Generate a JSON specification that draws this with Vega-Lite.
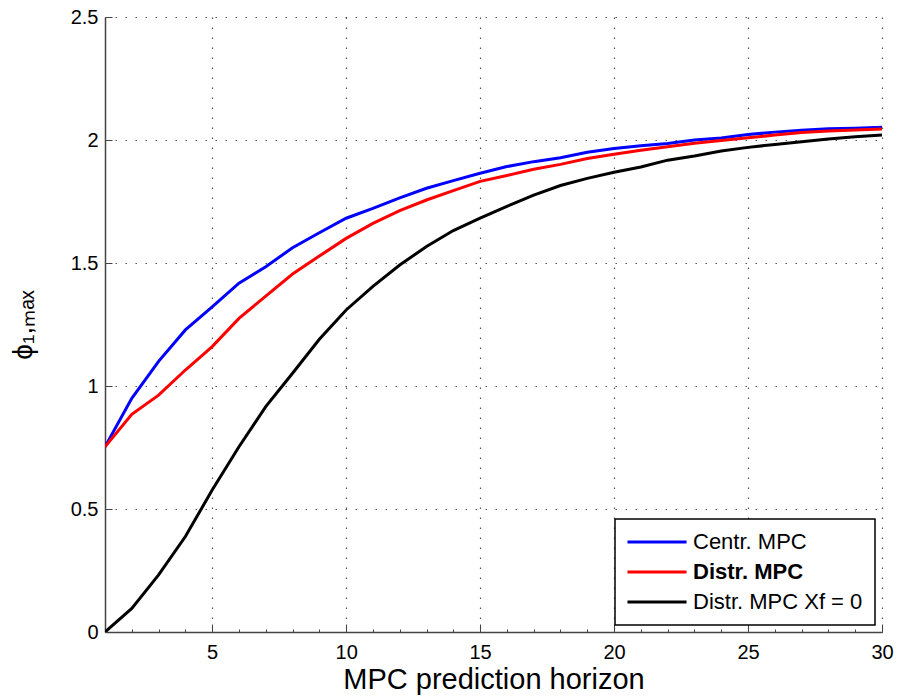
{
  "$schema": "https://vega.github.io/schema/vega-lite/v6.json",
  "width": 777,
  "height": 615,
  "autosize": {"type": "none"},
  "padding": {"left": 105, "top": 17, "right": 17, "bottom": 67},
  "background": "white",
  "config": {
    "view": {"stroke": null},
    "font": "Liberation Sans",
    "axis": {"labelFont": "Liberation Sans", "titleFont": "Liberation Sans", "labelColor": "black", "titleColor": "black", "titleFontWeight": "normal", "domainColor": "#444", "tickColor": "#444", "domainWidth": 1.5, "tickWidth": 1}
  },
  "datasets": {
    "d": [
      {"h":1,"s":"Centr. MPC","v":0.753},{"h":2,"s":"Centr. MPC","v":0.95},{"h":3,"s":"Centr. MPC","v":1.10},{"h":4,"s":"Centr. MPC","v":1.228},{"h":5,"s":"Centr. MPC","v":1.322},{"h":6,"s":"Centr. MPC","v":1.418},{"h":7,"s":"Centr. MPC","v":1.485},{"h":8,"s":"Centr. MPC","v":1.562},{"h":9,"s":"Centr. MPC","v":1.623},{"h":10,"s":"Centr. MPC","v":1.682},{"h":11,"s":"Centr. MPC","v":1.722},{"h":12,"s":"Centr. MPC","v":1.765},{"h":13,"s":"Centr. MPC","v":1.804},{"h":14,"s":"Centr. MPC","v":1.835},{"h":15,"s":"Centr. MPC","v":1.865},{"h":16,"s":"Centr. MPC","v":1.892},{"h":17,"s":"Centr. MPC","v":1.912},{"h":18,"s":"Centr. MPC","v":1.928},{"h":19,"s":"Centr. MPC","v":1.95},{"h":20,"s":"Centr. MPC","v":1.965},{"h":21,"s":"Centr. MPC","v":1.977},{"h":22,"s":"Centr. MPC","v":1.986},{"h":23,"s":"Centr. MPC","v":2.0},{"h":24,"s":"Centr. MPC","v":2.008},{"h":25,"s":"Centr. MPC","v":2.022},{"h":26,"s":"Centr. MPC","v":2.032},{"h":27,"s":"Centr. MPC","v":2.04},{"h":28,"s":"Centr. MPC","v":2.046},{"h":29,"s":"Centr. MPC","v":2.048},{"h":30,"s":"Centr. MPC","v":2.052},
      {"h":1,"s":"Distr. MPC","v":0.753},{"h":2,"s":"Distr. MPC","v":0.885},{"h":3,"s":"Distr. MPC","v":0.963},{"h":4,"s":"Distr. MPC","v":1.065},{"h":5,"s":"Distr. MPC","v":1.16},{"h":6,"s":"Distr. MPC","v":1.275},{"h":7,"s":"Distr. MPC","v":1.365},{"h":8,"s":"Distr. MPC","v":1.455},{"h":9,"s":"Distr. MPC","v":1.528},{"h":10,"s":"Distr. MPC","v":1.60},{"h":11,"s":"Distr. MPC","v":1.661},{"h":12,"s":"Distr. MPC","v":1.713},{"h":13,"s":"Distr. MPC","v":1.756},{"h":14,"s":"Distr. MPC","v":1.794},{"h":15,"s":"Distr. MPC","v":1.832},{"h":16,"s":"Distr. MPC","v":1.856},{"h":17,"s":"Distr. MPC","v":1.881},{"h":18,"s":"Distr. MPC","v":1.901},{"h":19,"s":"Distr. MPC","v":1.925},{"h":20,"s":"Distr. MPC","v":1.942},{"h":21,"s":"Distr. MPC","v":1.958},{"h":22,"s":"Distr. MPC","v":1.973},{"h":23,"s":"Distr. MPC","v":1.987},{"h":24,"s":"Distr. MPC","v":1.998},{"h":25,"s":"Distr. MPC","v":2.009},{"h":26,"s":"Distr. MPC","v":2.02},{"h":27,"s":"Distr. MPC","v":2.03},{"h":28,"s":"Distr. MPC","v":2.037},{"h":29,"s":"Distr. MPC","v":2.041},{"h":30,"s":"Distr. MPC","v":2.045},
      {"h":1,"s":"Distr. MPC Xf = 0","v":0.0},{"h":2,"s":"Distr. MPC Xf = 0","v":0.096},{"h":3,"s":"Distr. MPC Xf = 0","v":0.232},{"h":4,"s":"Distr. MPC Xf = 0","v":0.388},{"h":5,"s":"Distr. MPC Xf = 0","v":0.577},{"h":6,"s":"Distr. MPC Xf = 0","v":0.753},{"h":7,"s":"Distr. MPC Xf = 0","v":0.916},{"h":8,"s":"Distr. MPC Xf = 0","v":1.052},{"h":9,"s":"Distr. MPC Xf = 0","v":1.19},{"h":10,"s":"Distr. MPC Xf = 0","v":1.309},{"h":11,"s":"Distr. MPC Xf = 0","v":1.405},{"h":12,"s":"Distr. MPC Xf = 0","v":1.492},{"h":13,"s":"Distr. MPC Xf = 0","v":1.567},{"h":14,"s":"Distr. MPC Xf = 0","v":1.632},{"h":15,"s":"Distr. MPC Xf = 0","v":1.682},{"h":16,"s":"Distr. MPC Xf = 0","v":1.73},{"h":17,"s":"Distr. MPC Xf = 0","v":1.776},{"h":18,"s":"Distr. MPC Xf = 0","v":1.815},{"h":19,"s":"Distr. MPC Xf = 0","v":1.844},{"h":20,"s":"Distr. MPC Xf = 0","v":1.869},{"h":21,"s":"Distr. MPC Xf = 0","v":1.89},{"h":22,"s":"Distr. MPC Xf = 0","v":1.918},{"h":23,"s":"Distr. MPC Xf = 0","v":1.935},{"h":24,"s":"Distr. MPC Xf = 0","v":1.955},{"h":25,"s":"Distr. MPC Xf = 0","v":1.97},{"h":26,"s":"Distr. MPC Xf = 0","v":1.982},{"h":27,"s":"Distr. MPC Xf = 0","v":1.993},{"h":28,"s":"Distr. MPC Xf = 0","v":2.004},{"h":29,"s":"Distr. MPC Xf = 0","v":2.013},{"h":30,"s":"Distr. MPC Xf = 0","v":2.02}
    ]
  },
  "data": {"name": "d"},
  "resolve": {"axis": {"x": "independent"}},
  "layer": [
    {
      "mark": {"type": "line", "strokeWidth": 3, "clip": true},
      "encoding": {
        "x": {"field": "h", "type": "quantitative", "scale": {"domain": [1, 30], "nice": false, "zero": false},
          "axis": {"orient": "bottom", "values": [5, 10, 15, 20, 25, 30], "title": "MPC prediction horizon", "titleFontSize": 29, "titlePadding": 3, "labelFontSize": 20, "labelPadding": 18, "tickSize": -8, "grid": true, "gridColor": "#555", "gridDash": [1.5, 8.5], "gridWidth": 1.2, "labelFlush": false}},
        "y": {"field": "v", "type": "quantitative", "scale": {"domain": [0, 2.5], "nice": false},
          "axis": {"values": [0, 0.5, 1, 1.5, 2, 2.5], "format": "~g", "title": "ϕ₁,ₘₐₓ", "titleFontSize": 28, "titlePadding": 33, "labelFontSize": 20, "labelPadding": 14, "tickSize": -7, "grid": true, "gridColor": "#555", "gridDash": [1.5, 8.5], "gridWidth": 1.2, "labelFlush": false}},
        "color": {"field": "s", "type": "nominal", "sort": ["Centr. MPC", "Distr. MPC", "Distr. MPC Xf = 0"],
          "scale": {"domain": ["Centr. MPC", "Distr. MPC", "Distr. MPC Xf = 0"], "range": ["#0000ff", "#ff0000", "#000000"]},
          "legend": {"orient": "none", "legendX": 510, "legendY": 502, "title": null, "symbolType": "M-4,0H4", "symbolSize": 218, "symbolStrokeWidth": 3, "symbolOffset": 19, "labelFontSize": 22, "labelFont": "Liberation Sans", "labelColor": "black", "labelOffset": 25, "rowPadding": 8, "padding": 12, "strokeColor": "black", "fillColor": "white", "cornerRadius": 0, "labelLimit": 300,
            "encode": {"labels": {"update": {"fontWeight": {"signal": "datum.label === 'Distr. MPC' ? 'bold' : 'normal'"}}}, "legend": {"update": {"strokeWidth": {"value": 1.5}}}}}}
      }
    },
    {
      "mark": {"type": "point", "opacity": 0},
      "encoding": {
        "x": {"field": "h", "type": "quantitative",
          "axis": {"orient": "bottom", "values": [1,2,3,4,5,6,7,8,9,10,11,12,13,14,15,16,17,18,19,20,21,22,23,24,25,26,27,28,29,30], "labels": false, "title": null, "domain": false, "grid": false, "tickSize": -3}},
        "y": {"field": "v", "type": "quantitative"}
      }
    }
  ]
}
